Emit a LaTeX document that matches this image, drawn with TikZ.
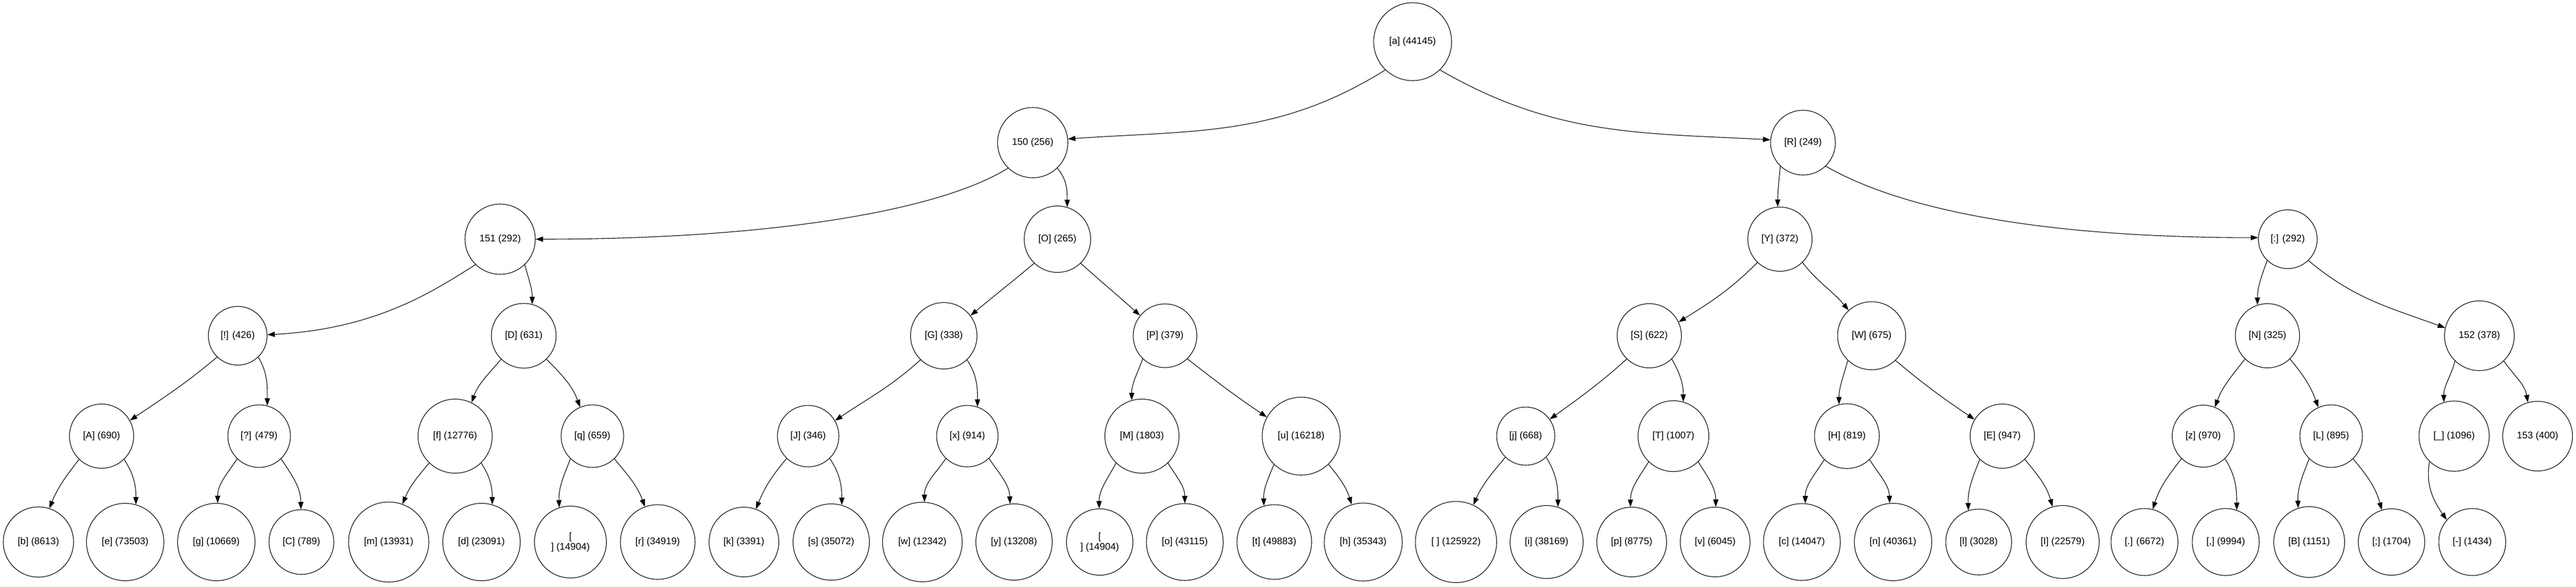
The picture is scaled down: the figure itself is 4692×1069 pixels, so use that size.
\documentclass[tikz,border=0pt]{standalone}
\usepackage{fontspec}
\setmainfont{Liberation Sans}
\usetikzlibrary{arrows.meta}

\begin{document}
\begin{tikzpicture}[x=1pt, y=-1pt, sym/.style = {shape=circle, draw, align=center, inner sep=0pt, line width=1.1pt, font=\fontsize{17.6}{19}\selectfont}, link/.style = {line width=1.1pt, -{Triangle[length=13.5pt, width=9.5pt]}}]
	\useasboundingbox (0,0) rectangle (4692,1069);
	% level 0 to 3
	\node[sym, minimum size=142] (root) at (2573,76) {[a] (44145)};
	\node[sym, minimum size=128] (n150) at (1881,260) {150 (256)};
	\node[sym, minimum size=118] (nR) at (3284,260) {[R] (249)};
	\node[sym, minimum size=128] (n151) at (911,436) {151 (292)};
	\node[sym, minimum size=121] (nO) at (1926,436) {[O] (265)};
	\node[sym, minimum size=117] (nY) at (3242,436) {[Y] (372)};
	\node[sym, minimum size=107] (ncolon) at (4167,436) {[:] (292)};
	\node[sym, minimum size=107] (nexcl) at (433,612) {[!] (426)};
	\node[sym, minimum size=118] (nD) at (954,612) {[D] (631)};
	\node[sym, minimum size=121] (nG) at (1719,612) {[G] (338)};
	\node[sym, minimum size=116] (nP) at (2122,612) {[P] (379)};
	\node[sym, minimum size=117] (nS) at (3004,612) {[S] (622)};
	\node[sym, minimum size=124] (nW) at (3409,612) {[W] (675)};
	\node[sym, minimum size=117] (nN) at (4130,612) {[N] (325)};
	\node[sym, minimum size=127] (n152) at (4516,612) {152 (378)};
	% level 4
	\node[sym, minimum size=117] (nA) at (185,795) {[A] (690)};
	\node[sym, minimum size=114] (nquest) at (472,795) {[?] (479)};
	\node[sym, minimum size=135] (nf) at (829,795) {[f] (12776)};
	\node[sym, minimum size=114] (nq) at (1079,795) {[q] (659)};
	\node[sym, minimum size=112] (nJ) at (1472,795) {[J] (346)};
	\node[sym, minimum size=112] (nx) at (1762,795) {[x] (914)};
	\node[sym, minimum size=135] (nM) at (2080,795) {[M] (1803)};
	\node[sym, minimum size=142] (nu) at (2370,795) {[u] (16218)};
	\node[sym, minimum size=106] (nj) at (2779,795) {[j] (668)};
	\node[sym, minimum size=129] (nT) at (3048,795) {[T] (1007)};
	\node[sym, minimum size=118] (nH) at (3364,795) {[H] (819)};
	\node[sym, minimum size=117] (nE) at (3647,795) {[E] (947)};
	\node[sym, minimum size=113] (nz) at (4013,795) {[z] (970)};
	\node[sym, minimum size=114] (nL) at (4246,795) {[L] (895)};
	\node[sym, minimum size=128] (nunder) at (4470,795) {[\_] (1096)};
	\node[sym, minimum size=127] (n153) at (4622,795) {153 (400)};
	% leaves
	\node[sym, minimum size=128] (nb) at (70,988) {[b] (8613)};
	\node[sym, minimum size=141] (ne) at (228,988) {[e] (73503)};
	\node[sym, minimum size=141] (ng) at (394,988) {[g] (10669)};
	\node[sym, minimum size=118] (nC) at (549,988) {[C] (789)};
	\node[sym, minimum size=146] (nm) at (708,988) {[m] (13931)};
	\node[sym, minimum size=141] (nd) at (877,988) {[d] (23091)};
	\node[sym, minimum size=131] (nlf) at (1039,988) {[\\] (14904)};
	\node[sym, minimum size=136] (nr) at (1198,988) {[r] (34919)};
	\node[sym, minimum size=127] (nk) at (1355,988) {[k] (3391)};
	\node[sym, minimum size=139] (ns) at (1514,988) {[s] (35072)};
	\node[sym, minimum size=145] (nw) at (1680,988) {[w] (12342)};
	\node[sym, minimum size=139] (ny) at (1847,988) {[y] (13208)};
	\node[sym, minimum size=121] (ncr) at (2003,988) {[\\] (14904)};
	\node[sym, minimum size=140] (no) at (2158,988) {[o] (43115)};
	\node[sym, minimum size=136] (nt) at (2321,988) {[t] (49883)};
	\node[sym, minimum size=142] (nh) at (2483,988) {[h] (35343)};
	\node[sym, minimum size=148] (nspace) at (2652,988) {[ ] (125922)};
	\node[sym, minimum size=133] (ni) at (2817,988) {[i] (38169)};
	\node[sym, minimum size=127] (np) at (2972,988) {[p] (8775)};
	\node[sym, minimum size=127] (nv) at (3124,988) {[v] (6045)};
	\node[sym, minimum size=140] (nc) at (3282,988) {[c] (14047)};
	\node[sym, minimum size=141] (nn) at (3448,988) {[n] (40361)};
	\node[sym, minimum size=120] (nl) at (3604,988) {[l] (3028)};
	\node[sym, minimum size=133] (nI) at (3757,988) {[I] (22579)};
	\node[sym, minimum size=122] (ndot) at (3906,988) {[.] (6672)};
	\node[sym, minimum size=122] (ncomma) at (4054,988) {[,] (9994)};
	\node[sym, minimum size=129] (nB) at (4206,988) {[B] (1151)};
	\node[sym, minimum size=121] (nsemi) at (4356,988) {[;] (1704)};
	\node[sym, minimum size=122] (ndash) at (4503,988) {[-] (1434)};
	% edges, from the lower left / lower right of each parent
	\draw[link] (root.-134) to[out=-148, in=4] (n150.6);
	\draw[link] (root.-46) to[out=-30, in=177] (nR.175);
	\draw[link] (n150.-134) to[out=-148, in=0, out distance=150pt, in distance=420pt] (n151.0);
	\draw[link] (n150.-46) to[out=-50, in=90] (nO.73);
	\draw[link] (nR.-134) to[out=-95, in=90] (nY.94);
	\draw[link] (nR.-46) to[out=-30, in=180, out distance=180pt, in distance=350pt] (ncolon.177);
	\draw[link] (n151.-134) to[out=-148, in=3, out distance=90pt, in distance=200pt] (nexcl.2);
	\draw[link] (n151.-46) to[out=-75, in=90] (nD.75);
	\draw[link] (nO.-134) to[out=-140, in=40] (nG.37);
	\draw[link] (nO.-46) to[out=-42, in=138] (nP.141);
	\draw[link] (nY.-134) to[out=-135, in=32] (nS.25);
	\draw[link] (nY.-46) to[out=-52, in=130] (nW.132);
	\draw[link] (ncolon.-134) to[out=-110, in=90] (nN.108);
	\draw[link] (ncolon.-46) to[out=-40, in=160] (n152.167);
	\draw[link] (nexcl.-134) to[out=-140, in=34] (nA.29);
	\draw[link] (nexcl.-46) to[out=-60, in=90] (nquest.75);
	\draw[link] (nD.-134) to[out=-130, in=70] (nf.64);
	\draw[link] (nD.-46) to[out=-45, in=110] (nq.113);
	\draw[link] (nG.-134) to[out=-138, in=34] (nJ.30);
	\draw[link] (nG.-46) to[out=-57, in=90] (nx.71);
	\draw[link] (nP.-134) to[out=-110, in=90] (nM.106);
	\draw[link] (nP.-46) to[out=-38, in=146] (nu.151);
	\draw[link] (nS.-134) to[out=-138, in=36] (nj.35);
	\draw[link] (nS.-46) to[out=-60, in=90] (nT.74);
	\draw[link] (nW.-134) to[out=-105, in=90] (nH.104);
	\draw[link] (nW.-46) to[out=-40, in=146] (nE.149);
	\draw[link] (nN.-134) to[out=-128, in=70] (nz.68);
	\draw[link] (nN.-46) to[out=-50, in=110] (nL.114);
	\draw[link] (n152.-134) to[out=-105, in=90] (nunder.107);
	\draw[link] (n152.-46) to[out=-55, in=100] (n153.106);
	\draw[link] (nA.-134) to[out=-128, in=68] (nb.72);
	\draw[link] (nA.-46) to[out=-56, in=90] (ne.74);
	\draw[link] (nquest.-134) to[out=-124, in=90] (ng.88);
	\draw[link] (nquest.-46) to[out=-56, in=90] (nC.91);
	\draw[link] (nf.-134) to[out=-130, in=68] (nm.70);
	\draw[link] (nf.-46) to[out=-56, in=90] (nd.74);
	\draw[link] (nq.-134) to[out=-112, in=92] (nlf.108);
	\draw[link] (nq.-46) to[out=-50, in=110] (nr.110);
	\draw[link] (nJ.-134) to[out=-130, in=68] (nk.70);
	\draw[link] (nJ.-46) to[out=-56, in=90] (ns.74);
	\draw[link] (nx.-134) to[out=-124, in=90] (nw.87);
	\draw[link] (nx.-46) to[out=-56, in=92] (ny.96);
	\draw[link] (nM.-134) to[out=-118, in=90] (ncr.91);
	\draw[link] (nM.-46) to[out=-58, in=90] (no.90);
	\draw[link] (nu.-134) to[out=-112, in=92] (nt.106);
	\draw[link] (nu.-46) to[out=-50, in=108] (nh.107);
	\draw[link] (nj.-134) to[out=-130, in=66] (nspace.65);
	\draw[link] (nj.-46) to[out=-58, in=90] (ni.72);
	\draw[link] (nT.-134) to[out=-122, in=90] (np.92);
	\draw[link] (nT.-46) to[out=-58, in=90] (nv.89);
	\draw[link] (nH.-134) to[out=-122, in=90] (nc.85);
	\draw[link] (nH.-46) to[out=-58, in=92] (nn.95);
	\draw[link] (nE.-134) to[out=-112, in=92] (nl.108);
	\draw[link] (nE.-46) to[out=-50, in=106] (nI.106);
	\draw[link] (nz.-134) to[out=-128, in=72] (ndot.76);
	\draw[link] (nz.-46) to[out=-58, in=90] (ncomma.71);
	\draw[link] (nL.-134) to[out=-112, in=92] (nB.108);
	\draw[link] (nL.-46) to[out=-50, in=105] (nsemi.107);
	\draw[link] (nunder.-134) to[out=-100, in=125] (ndash.139);
\end{tikzpicture}
\end{document}
